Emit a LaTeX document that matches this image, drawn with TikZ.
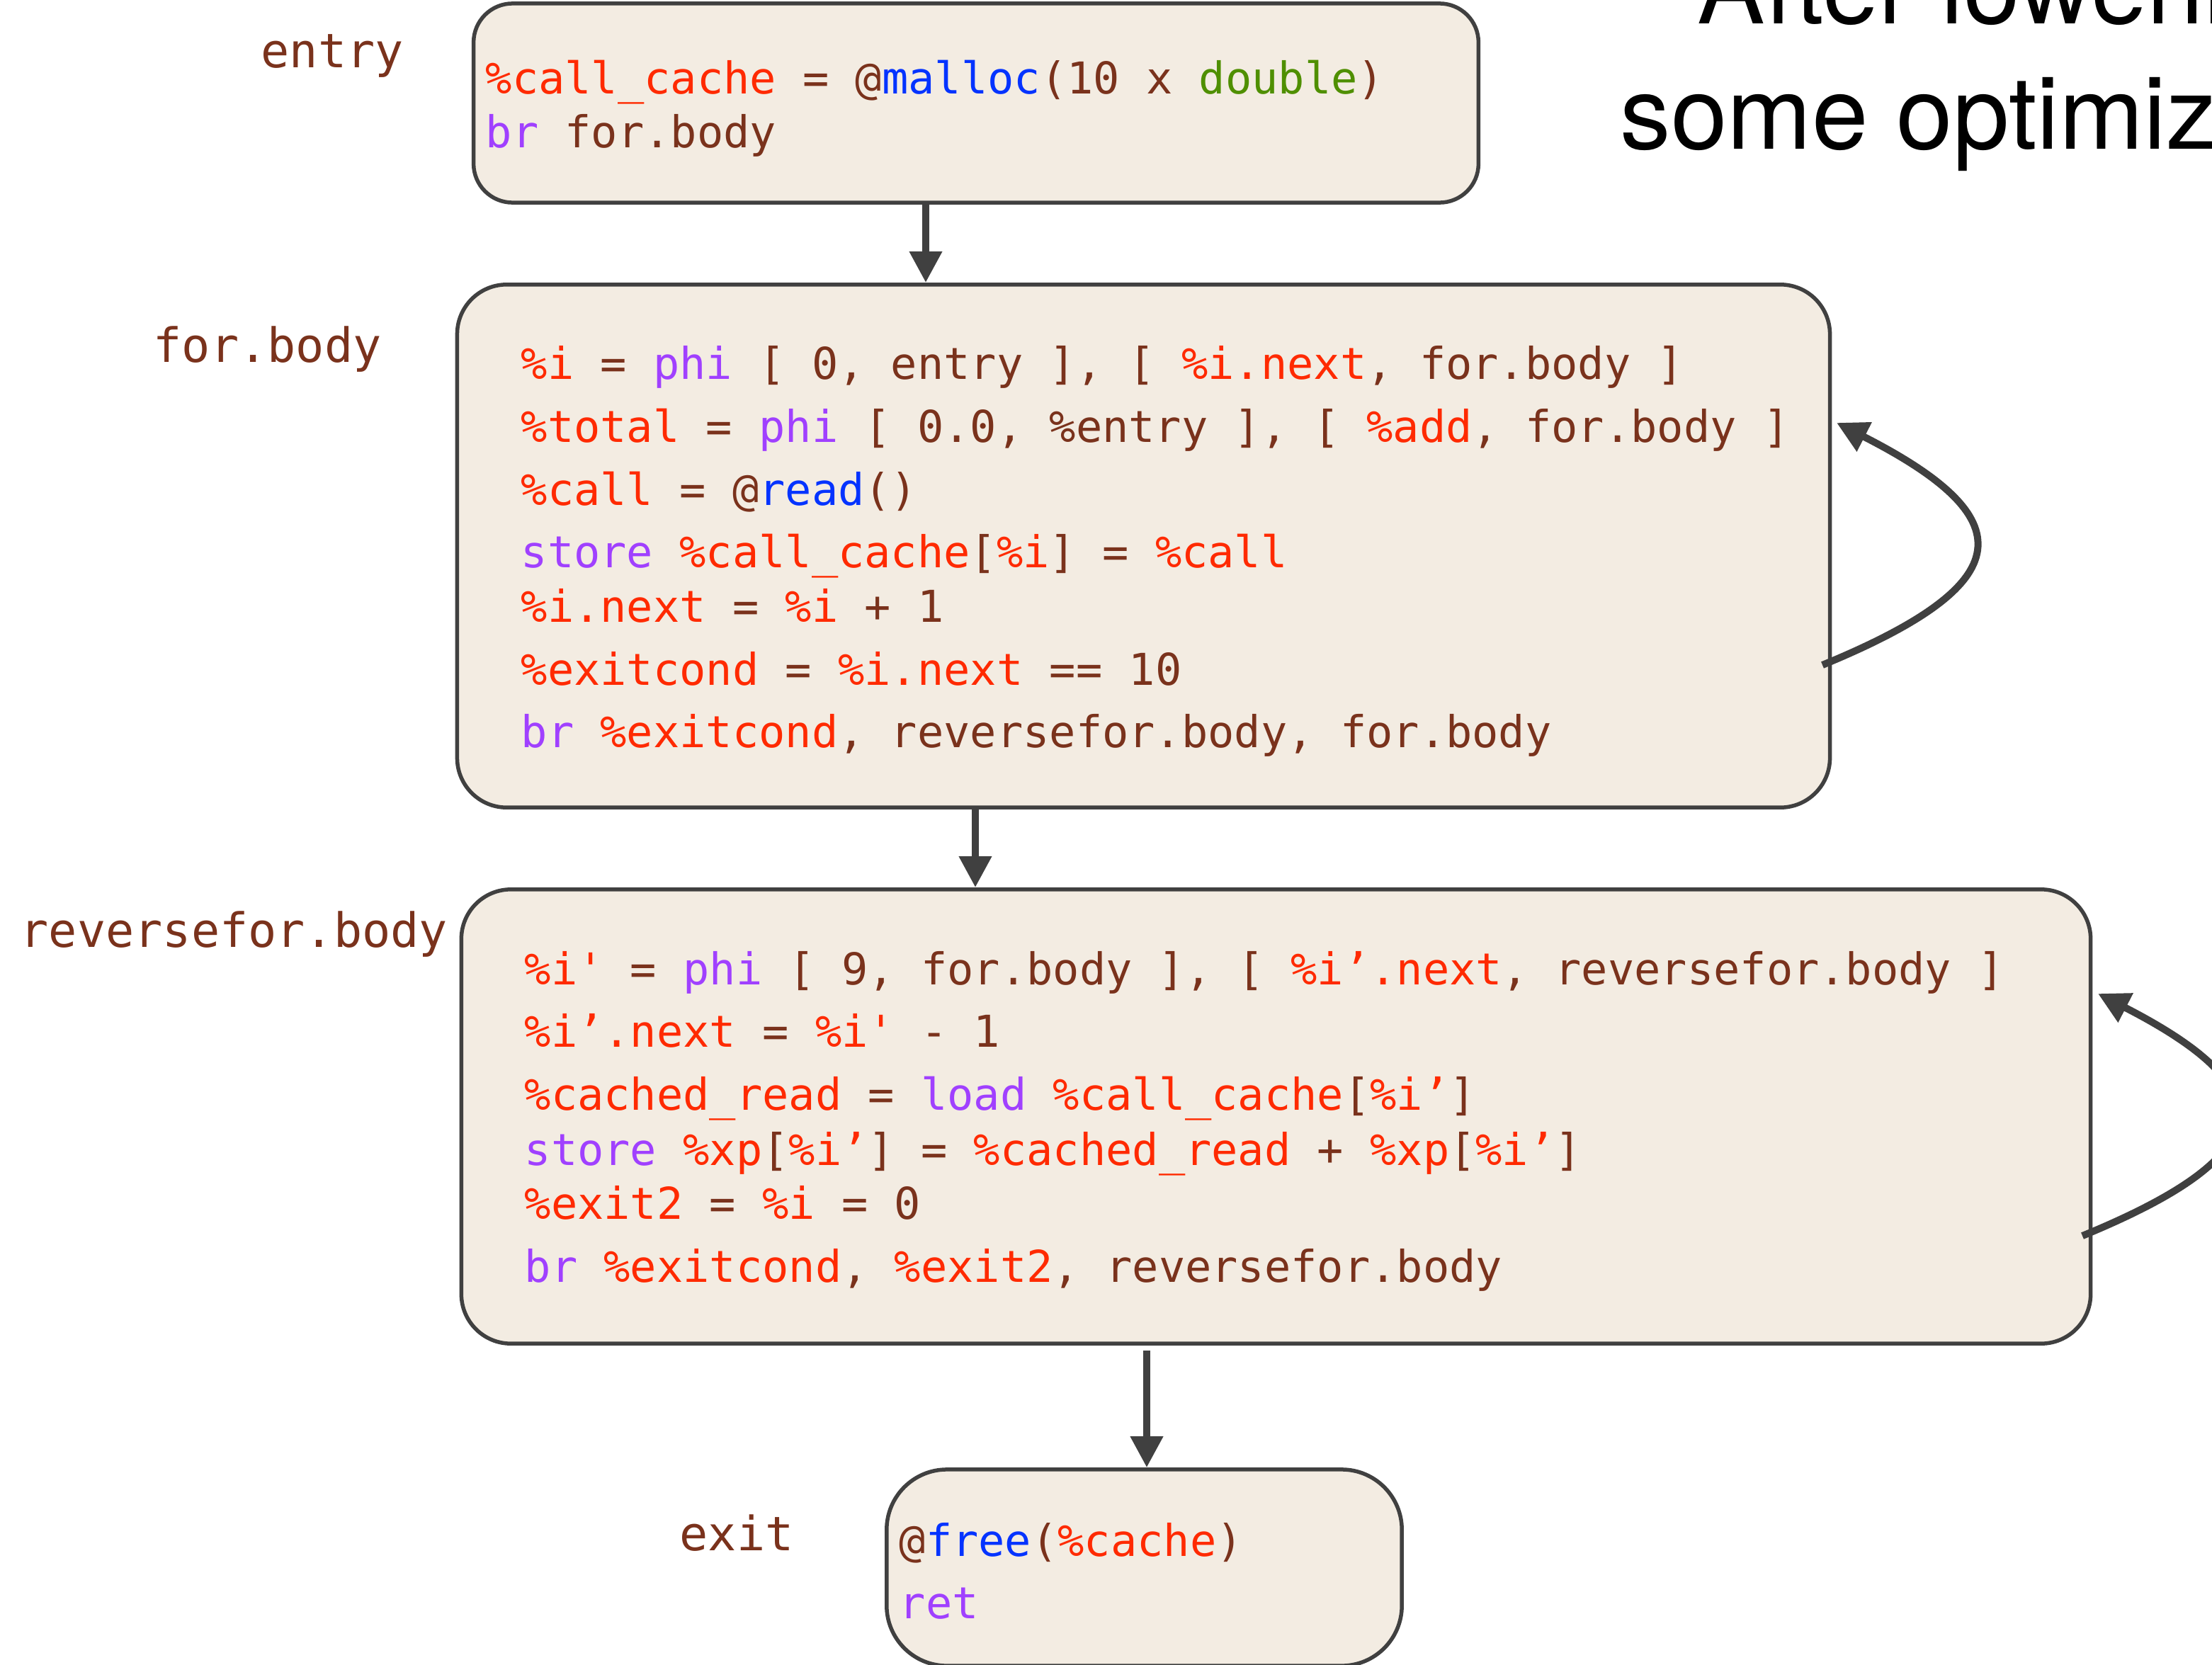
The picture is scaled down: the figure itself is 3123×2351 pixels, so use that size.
\documentclass[tikz,border=0pt]{standalone}
\usepackage{fontspec}
\setmainfont{TeX Gyre Heros}
\newfontfamily\codefont{DejaVu Sans Mono}
\usetikzlibrary{arrows.meta,calc}
\definecolor{cbrown}{HTML}{7A321C}
\definecolor{cred}{HTML}{FF2A00}
\definecolor{cpur}{HTML}{A040FF}
\definecolor{cblue}{HTML}{0433FF}
\definecolor{cgreen}{HTML}{4F8F00}
\definecolor{cgray}{HTML}{404040}
\definecolor{cfill}{HTML}{F3ECE2}
\newcommand\cR[1]{\textcolor{cred}{#1}}
\newcommand\cP[1]{\textcolor{cpur}{#1}}
\newcommand\cB[1]{\textcolor{cblue}{#1}}
\newcommand\cG[1]{\textcolor{cgreen}{#1}}
\begin{document}
\begin{tikzpicture}[x=0.01cm,y=-0.01cm,
  box/.style={draw=cgray, line width=0.055cm, fill=cfill, inner sep=0pt},
  code/.style={anchor=base west, inner sep=0pt, text=cbrown, font=\codefont\fontsize{17.62pt}{20pt}\selectfont\frenchspacing},
  lab/.style={anchor=base west, inner sep=0pt, text=cbrown, font=\codefont\fontsize{19pt}{21pt}\selectfont\frenchspacing},
  title/.style={anchor=base west, inner sep=0pt, text=black, font=\fontsize{40.7pt}{48pt}\selectfont},
  arr/.style={draw=cgray, line width=0.1cm, -{Triangle[length=0.44cm,width=0.44cm]}},
]
\useasboundingbox (0,0) rectangle (3123,2351);
\clip (0,0) rectangle (3123,2351);

% boxes
\node[box, rounded corners=0.55cm, minimum width=14.18cm, minimum height=2.81cm] (entry) at (1378,145.5) {};
\node[box, rounded corners=0.7cm, minimum width=19.37cm, minimum height=7.38cm] (forbody) at (1614.5,771) {};
\node[box, rounded corners=0.7cm, minimum width=22.99cm, minimum height=6.41cm] (rv) at (1801.5,1576.5) {};
\node[box, rounded corners=0.85cm, minimum width=7.27cm, minimum height=2.77cm] (exit) at (1615.5,2213.5) {};

% title
\node[title] (t1) at (2396,33) {After lowering};
\node[title] (t2) at (2287,210) {some optimizations};

% labels
\node[lab] (le) at (368,95) {entry};
\node[lab] (lf) at (216,511) {for.body};
\node[lab] (lr) at (28,1337) {reversefor.body};
\node[lab] (lx) at (959,2189) {exit};

% entry code
\node[code] (e1) at (685,132) {\cR{\%call\_cache} = @\cB{malloc}(10 x \cG{double})};
\node[code] (e2) at (685,208) {\cP{br} for.body};

% for.body code
\node[code] (f1) at (735,535) {\cR{\%i} = \cP{phi} [ 0, entry ], [ \cR{\%i.next}, for.body ]};
\node[code] (f2) at (735,624) {\cR{\%total} = \cP{phi} [ 0.0, \%entry ], [ \cR{\%add}, for.body ]};
\node[code] (f3) at (735,713) {\cR{\%call} = @\cB{read}()};
\node[code] (f4) at (735,801) {\cP{store} \cR{\%call\_cache}[\cR{\%i}] = \cR{\%call}};
\node[code] (f5) at (735,878) {\cR{\%i.next} = \cR{\%i} + 1};
\node[code] (f6) at (735,967) {\cR{\%exitcond} = \cR{\%i.next} == 10};
\node[code] (f7) at (735,1055) {\cP{br} \cR{\%exitcond}, reversefor.body, for.body};

% reversefor.body code
\node[code] (r1) at (740,1390) {\cR{\%i\char"27} = \cP{phi} [ 9, for.body ], [ \cR{\%i’.next}, reversefor.body ]};
\node[code] (r2) at (740,1478) {\cR{\%i’.next} = \cR{\%i\char"27} - 1};
\node[code] (r3) at (740,1567) {\cR{\%cached\_read} = \cP{load} \cR{\%call\_cache}[\cR{\%i’}]};
\node[code] (r4) at (740,1645) {\cP{store} \cR{\%xp}[\cR{\%i’}] = \cR{\%cached\_read} + \cR{\%xp}[\cR{\%i’}]};
\node[code] (r5) at (740,1721) {\cR{\%exit2} = \cR{\%i} = 0};
\node[code] (r6) at (740,1810) {\cP{br} \cR{\%exitcond}, \cR{\%exit2}, reversefor.body};

% exit code
\node[code] (x1) at (1269,2197) {@\cB{free}(\cR{\%cache})};
\node[code] (x2) at (1269,2285) {\cP{ret}};

% straight arrows
\coordinate (a1) at (1307,0);
\coordinate (a2) at (1377,0);
\coordinate (a3) at (1619,0);
\draw[arr] (entry.south -| a1) -- (forbody.north -| a1);
\draw[arr] (forbody.south -| a2) -- (rv.north -| a2);
\draw[arr] ($(rv.south -| a3)+(0,7)$) -- (exit.north -| a3);

% self loops
\coordinate (l1a) at (2573,939);
\coordinate (l1b) at (2593,597);
\draw[arr] (l1a) .. controls (2855,823) and (2856,731) .. (l1b);
\coordinate (l2a) at (2940,1745);
\coordinate (l2b) at (2962,1403);
\draw[arr] (l2a) .. controls (3222,1629) and (3223,1537) .. (l2b);
\end{tikzpicture}
\end{document}
